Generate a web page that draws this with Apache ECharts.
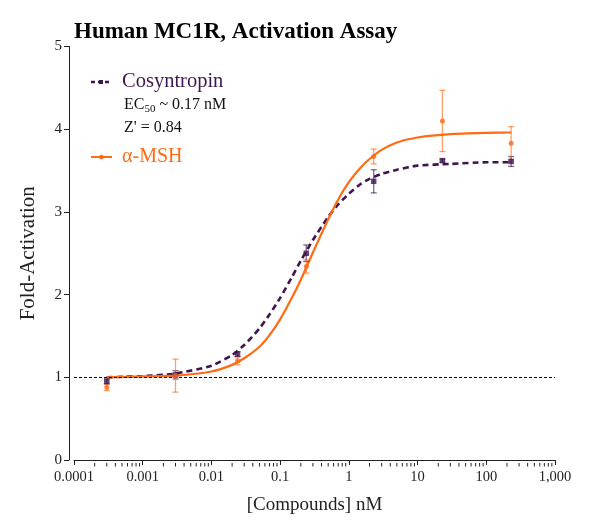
<!DOCTYPE html>
<html>
<head>
<meta charset="utf-8">
<script src="https://cdn.jsdelivr.net/npm/echarts@6/dist/echarts.min.js"></script>
<style>html,body{margin:0;padding:0;background:#fff;}#c{width:600px;height:528px;}</style>
</head>
<body>
<div id="c"></div>
<script>
// ---- data ----
const conc = [0.0003, 0.003, 0.024, 0.24, 2.3, 23, 230];
const cosyMean = [0.95, 1.03, 1.28, 2.50, 3.37, 3.62, 3.61];
const cosyErr  = [0.03, 0.05, 0.03, 0.10, 0.14, 0.02, 0.06];
const mshMean  = [0.88, 1.02, 1.20, 2.34, 3.67, 4.10, 3.83];
const mshErr   = [0.04, 0.20, 0.05, 0.08, 0.09, 0.37, 0.20];
// fitted curves
const curveX    = [0.0003, 0.001, 0.003, 0.01, 0.02, 0.03, 0.05, 0.07, 0.1, 0.15, 0.2, 0.3, 0.5, 0.7, 1, 1.5, 2, 3, 5, 10, 30, 100, 230];
const cosyCurve = [1.00, 1.015, 1.045, 1.14, 1.27, 1.39, 1.59, 1.76, 1.96, 2.22, 2.41, 2.66, 2.94, 3.09, 3.22, 3.34, 3.40, 3.46, 3.51, 3.56, 3.58, 3.60, 3.60];
const mshCurve  = [1.00, 1.01, 1.02, 1.07, 1.15, 1.23, 1.37, 1.51, 1.70, 1.97, 2.18, 2.51, 2.91, 3.15, 3.36, 3.54, 3.64, 3.75, 3.84, 3.90, 3.94, 3.955, 3.96];
const xTickLabels = ['0.0001', '0.001', '0.01', '0.1', '1', '10', '100', '1,000'];
const yTicks = [0, 1, 2, 3, 4, 5];
const baseline = 1;

const PURPLE = '#3f1550';
const ORANGE = '#ff6a13';
const FONT = '"Liberation Serif", "Times New Roman", serif';

// minor ticks of the log axis (2..9 within each decade)
const minorTicks = [];
for (let e = -4; e < 3; e++) for (let m = 2; m <= 9; m++) minorTicks.push([m * Math.pow(10, e), 0]);

function errData(means, errs) {
  return conc.map((x, i) => [x, means[i] - errs[i], means[i] + errs[i]]);
}
function errRender(color) {
  return function (params, api) {
    const x = api.value(0);
    const lo = api.coord([x, api.value(1)]);
    const hi = api.coord([x, api.value(2)]);
    const w = 3;
    const st = { stroke: color, lineWidth: 1.3 };
    return { type: 'group', children: [
      { type: 'line', shape: { x1: lo[0], y1: lo[1], x2: hi[0], y2: hi[1] }, style: st },
      { type: 'line', shape: { x1: lo[0] - w, y1: lo[1], x2: lo[0] + w, y2: lo[1] }, style: st },
      { type: 'line', shape: { x1: hi[0] - w, y1: hi[1], x2: hi[0] + w, y2: hi[1] }, style: st }
    ]};
  };
}

const chart = echarts.init(document.getElementById('c'), null, { renderer: 'canvas' });
chart.setOption({
  animation: false,
  backgroundColor: '#fff',
  textStyle: { fontFamily: FONT },
  title: {
    text: 'Human MC1R, Activation Assay',
    left: 69, top: 16,
    textStyle: { fontFamily: FONT, fontWeight: 'bold', fontSize: 23, color: '#000' }
  },
  grid: { left: 74, right: 45, top: 46.5, bottom: 68, containLabel: false },
  xAxis: {
    type: 'log', logBase: 10, min: 0.0001, max: 1000, interval: 1, splitNumber: 7,
    offset: 3,
    axisLine: { show: true, lineStyle: { color: '#222', width: 1 } },
    axisTick: { show: true, length: 5, lineStyle: { color: '#222' } },
    splitLine: { show: false },
    axisLabel: {
      fontFamily: FONT, fontSize: 14.5, color: '#222', margin: 7,
      formatter: (v, i) => xTickLabels[i]
    },
    name: '[Compounds] nM', nameLocation: 'middle', nameGap: 33,
    nameTextStyle: { fontFamily: FONT, fontSize: 19, color: '#222' }
  },
  yAxis: {
    type: 'value', min: yTicks[0], max: yTicks[yTicks.length - 1], interval: 1,
    offset: 5,
    axisLine: { show: true, lineStyle: { color: '#222', width: 1 } },
    axisTick: { show: true, length: 5, lineStyle: { color: '#222' } },
    splitLine: { show: false },
    axisLabel: { fontFamily: FONT, fontSize: 15, color: '#222', margin: 7 },
    name: 'Fold-Activation', nameLocation: 'middle', nameGap: 30, nameRotate: 90,
    nameTextStyle: { fontFamily: FONT, fontSize: 21, color: '#222' }
  },
  series: [
    {
      name: 'minorTicks', type: 'custom', silent: true, clip: false, z: 1,
      data: minorTicks,
      renderItem: function (params, api) {
        const p = api.coord([api.value(0), 0]);
        return { type: 'line', shape: { x1: p[0], y1: p[1] + 3, x2: p[0], y2: p[1] + 6.5 },
                 style: { stroke: '#222', lineWidth: 1 } };
      }
    },
    {
      name: 'Cosyntropin fit', type: 'line', smooth: 0.2, showSymbol: false, z: 3,
      data: curveX.map((x, i) => [x, cosyCurve[i]]),
      lineStyle: { color: PURPLE, width: 2.6, type: [6, 4] },
      markLine: {
        silent: true, symbol: 'none', label: { show: false },
        lineStyle: { color: '#000', width: 1, type: [3, 2] },
        data: [{ yAxis: baseline }]
      }
    },
    {
      name: 'α-MSH fit', type: 'line', smooth: 0.2, showSymbol: false, z: 4,
      data: curveX.map((x, i) => [x, mshCurve[i]]),
      lineStyle: { color: ORANGE, width: 2.2, type: 'solid' }
    },
    {
      name: 'Cosyntropin err', type: 'custom', z: 5,
      data: errData(cosyMean, cosyErr), renderItem: errRender('rgba(63,21,80,0.65)')
    },
    {
      name: 'α-MSH err', type: 'custom', z: 5,
      data: errData(mshMean, mshErr), renderItem: errRender('rgba(255,106,19,0.65)')
    },
    {
      name: 'Cosyntropin', type: 'scatter', symbol: 'rect', symbolSize: 5.5, z: 6,
      data: conc.map((x, i) => [x, cosyMean[i]]),
      itemStyle: { color: PURPLE }
    },
    {
      name: 'α-MSH', type: 'scatter', symbol: 'circle', symbolSize: 5, z: 6,
      data: conc.map((x, i) => [x, mshMean[i]]),
      itemStyle: { color: ORANGE }
    }
  ],
  graphic: [
    { type: 'line', shape: { x1: 91, y1: 82, x2: 112, y2: 82 }, style: { stroke: PURPLE, lineWidth: 2.4, lineDash: [4, 3] } },
    { type: 'rect', shape: { x: 99, y: 80, width: 4, height: 4 }, style: { fill: PURPLE } },
    { type: 'text', x: 122, y: 82, style: { text: 'Cosyntropin', fill: PURPLE, font: '20.5px ' + FONT, verticalAlign: 'middle' } },
    { type: 'text', x: 124, y: 105, style: {
        text: '{a|EC}{s|50}{a| ~ 0.17 nM}', verticalAlign: 'middle',
        rich: { a: { fontFamily: FONT, fontSize: 16, fill: '#111', color: '#111' },
                s: { fontFamily: FONT, fontSize: 11, fill: '#111', color: '#111', padding: [8, 0, 0, 0] } } } },
    { type: 'text', x: 124, y: 128, style: { text: "Z' = 0.84", fill: '#111', font: '16px ' + FONT, verticalAlign: 'middle' } },
    { type: 'line', shape: { x1: 91, y1: 157, x2: 112, y2: 157 }, style: { stroke: ORANGE, lineWidth: 2 } },
    { type: 'circle', shape: { cx: 101.5, cy: 157, r: 2.3 }, style: { fill: ORANGE } },
    { type: 'text', x: 122, y: 157, style: { text: 'α-MSH', fill: ORANGE, font: '20px ' + FONT, verticalAlign: 'middle' } }
  ]
});
</script>
</body>
</html>
